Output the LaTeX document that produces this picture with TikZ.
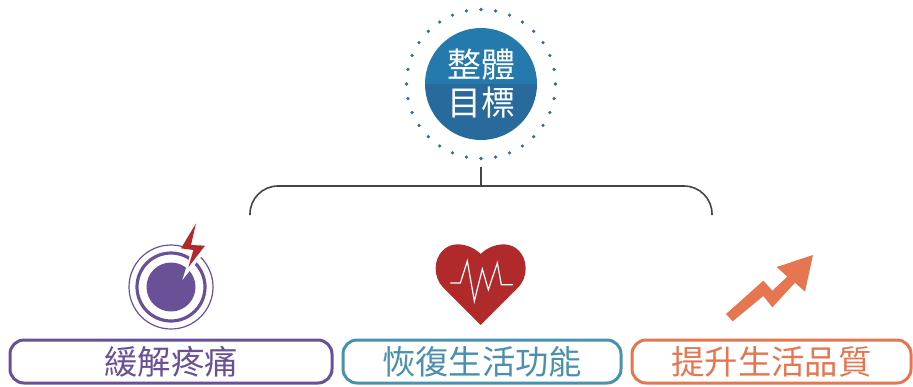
\documentclass[tikz,border=0pt]{standalone}
\usepackage{fontspec}
\newfontfamily\cjk{Noto Sans CJK TC}
\definecolor{topblue}{HTML}{2479AD}
\definecolor{lowblue}{HTML}{276A9B}
\definecolor{ringblue}{HTML}{2A6C9A}
\definecolor{lilac}{HTML}{6A5096}
\definecolor{teal1}{HTML}{4A90B0}
\definecolor{coral}{HTML}{E5764F}
\definecolor{crimson}{HTML}{B02A2C}
\definecolor{stemgrey}{HTML}{444444}
\tikzset{
  x=0.75pt,y=-0.75pt,
  labelbox/.style={draw=#1,line width=2.25pt,rounded corners=10.5pt,fill=white,text=#1,anchor=north west,inner sep=0pt,outer sep=0pt,
    font=\cjk\fontsize{25}{28}\selectfont},
  goaltext/.style={text=white,inner sep=0pt,font=\cjk\fontsize{25.5}{30}\selectfont},
  link/.style={draw=stemgrey,line width=1.2pt},
}
\begin{document}
\begin{tikzpicture}
\useasboundingbox (0,0) rectangle (913,386);
% goal
\fill[topblue] (425,84) arc[start angle=180,end angle=0,radius=56*0.75pt] -- cycle;
\fill[lowblue] (425,84) arc[start angle=180,end angle=360,radius=56*0.75pt] -- cycle;
\foreach \a in {0,11.25,...,349}
  \fill[ringblue] (481,84) ++(\a:74.5*0.75pt) circle[radius=1.35pt];
\node[goaltext] (goalA) at (481,65) {整體};
\node[goaltext] (goalB) at (481,103) {目標};
% bracket
\coordinate (stemtop) at (481,167);
\coordinate (stemjoin) at (481,186);
\coordinate (legL) at (250,215);
\coordinate (legR) at (712,215);
\draw[link] (stemtop) -- (stemjoin);
\draw[link,rounded corners=21pt] (legL) |- (stemjoin) -| (legR);
% pain icon
\draw[lilac,line width=0.9pt] (171,287) circle[radius=42*0.75pt];
\draw[lilac,line width=2.4pt] (171,287) circle[radius=34*0.75pt];
\fill[lilac] (171,287) circle[radius=24.5*0.75pt];
\begin{scope}[shift={(110,215)},x=0.25pt,y=-0.25pt]
\fill[white] (213,100) -- (244,108) -- (217,195) -- (300,92) -- (258,85) -- (270,40) -- cycle;
\fill[crimson] (258,25) -- (213,100) -- (250,105) -- (235,157) -- (285,92) -- (243,90) -- cycle;
\end{scope}
% heart icon
\begin{scope}[shift={(425,235)},x=0.25pt,y=-0.25pt]
\fill[crimson] (167,270) -- (55,158) .. controls (40,143) and (32,122) .. (32,100) .. controls (32,58) and (62,28) .. (97,28) .. controls (125,28) and (150,40) .. (167,57)
  .. controls (184,40) and (209,28) .. (237,28) .. controls (272,28) and (302,58) .. (302,100) .. controls (302,122) and (294,143) .. (279,158) -- cycle;
\draw[white,line width=0.9pt,line join=miter] (76,144) -- (106,144) -- (127,78) -- (148,198) -- (172,102) -- (190,164) -- (217,84) -- (229,149) -- (264,149);
\end{scope}
% arrow icon
\begin{scope}[shift={(715,245)},x=0.25pt,y=-0.25pt]
\fill[coral] (33,207) -- (145,107) -- (172,137) -- (217,95) -- (185,66) -- (294,30) -- (270,140) -- (240,113) -- (172,187) -- (145,153) -- (53,229) -- cycle;
\end{scope}
% labels
\node[labelbox=lilac,minimum width=322*0.75pt,minimum height=43*0.75pt] (boxA) at (10,340) {緩解疼痛};
\node[labelbox=teal1,minimum width=278*0.75pt,minimum height=43*0.75pt] (boxB) at (343,340) {恢復生活功能};
\node[labelbox=coral,minimum width=279*0.75pt,minimum height=43*0.75pt] (boxC) at (632,340) {提升生活品質};
\end{tikzpicture}
\end{document}
